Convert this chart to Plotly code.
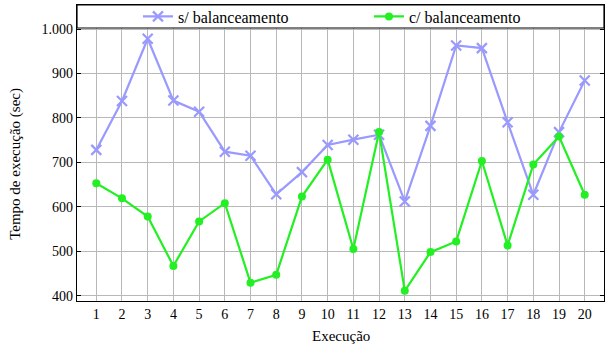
import plotly.graph_objects as go

execucao = list(range(1, 21))
sem_balanceamento = [728, 838, 978, 839, 814, 724, 715, 628, 678, 739,
                     751, 762, 612, 782, 963, 957, 790, 627, 768, 884]
com_balanceamento = [653, 619, 578, 467, 567, 608, 429, 447, 623, 706,
                     505, 768, 411, 498, 522, 703, 513, 695, 758, 627]
y_ticks = [400, 500, 600, 700, 800, 900, 1000]
y_tick_labels = ["400", "500", "600", "700", "800", "900", "1.000"]

FONT = "Liberation Serif"
BLUE = "#9999ff"
GREEN = "#22f022"

fig = go.Figure()
fig.add_trace(go.Scatter(
    x=execucao, y=sem_balanceamento, mode="lines+markers",
    name="s/ balanceamento",
    line=dict(color=BLUE, width=2.2),
    marker=dict(symbol="x-thin-open", size=10, color=BLUE,
                line=dict(color=BLUE, width=2.2)),
))
fig.add_trace(go.Scatter(
    x=execucao, y=com_balanceamento, mode="lines+markers",
    name="c/ balanceamento",
    line=dict(color=GREEN, width=2.2),
    marker=dict(symbol="circle", size=8, color=GREEN),
))

plot_top_px = 5
plot_bot_px = 301
H = 345
legend_bottom_frac = (plot_bot_px - 28) / (plot_bot_px - plot_top_px)

fig.update_layout(
    width=608, height=345,
    margin=dict(l=77, r=4, t=plot_top_px, b=H - plot_bot_px, autoexpand=False),
    paper_bgcolor="white", plot_bgcolor="white",
    font=dict(family=FONT, size=14, color="black"),
    showlegend=True,
    legend=dict(
        orientation="h", x=0.554, xanchor="center",
        y=(1 + legend_bottom_frac) / 2, yanchor="middle",
        bgcolor="rgba(0,0,0,0)", borderwidth=0,
        font=dict(family=FONT, size=16, color="black"),
        entrywidth=186, entrywidthmode="pixels",
        itemwidth=30,
    ),
    xaxis=dict(
        range=[0.25, 20.75], tickmode="array", tickvals=execucao,
        ticktext=[str(v) for v in execucao],
        showgrid=True, gridcolor="#b8b8b8", gridwidth=1,
        showline=True, linecolor="black", linewidth=1.2, mirror=True,
        ticks="", zeroline=False, automargin=False,
        tickfont=dict(family=FONT, size=14),
    ),
    yaxis=dict(
        range=[388, 1054], tickmode="array", tickvals=y_ticks,
        ticktext=y_tick_labels,
        showgrid=True, gridcolor="#b8b8b8", gridwidth=1,
        showline=True, linecolor="black", linewidth=1.2, mirror="ticks",
        ticks="inside", ticklen=4, tickcolor="black", zeroline=False,
        automargin=False,
        tickfont=dict(family=FONT, size=14),
    ),
    annotations=[
        dict(text="Execução", xref="paper", yref="paper", x=0.5, y=-0.085,
             xanchor="center", yanchor="top", showarrow=False,
             font=dict(family=FONT, size=15)),
        dict(text="Tempo de execução (sec)", xref="paper", yref="paper",
             x=-0.116, y=0.463, xanchor="center", yanchor="middle", textangle=-90,
             showarrow=False, font=dict(family=FONT, size=15)),
    ],
    shapes=[dict(
        type="rect", xref="paper", yref="paper",
        x0=0, x1=1, y0=legend_bottom_frac, y1=1,
        fillcolor="white", line=dict(color="black", width=1.2), layer="above",
    )],
)

fig.write_html("out.html", config={"displayModeBar": False},
               post_script="document.body.style.margin='0';document.body.style.overflow='hidden';")
